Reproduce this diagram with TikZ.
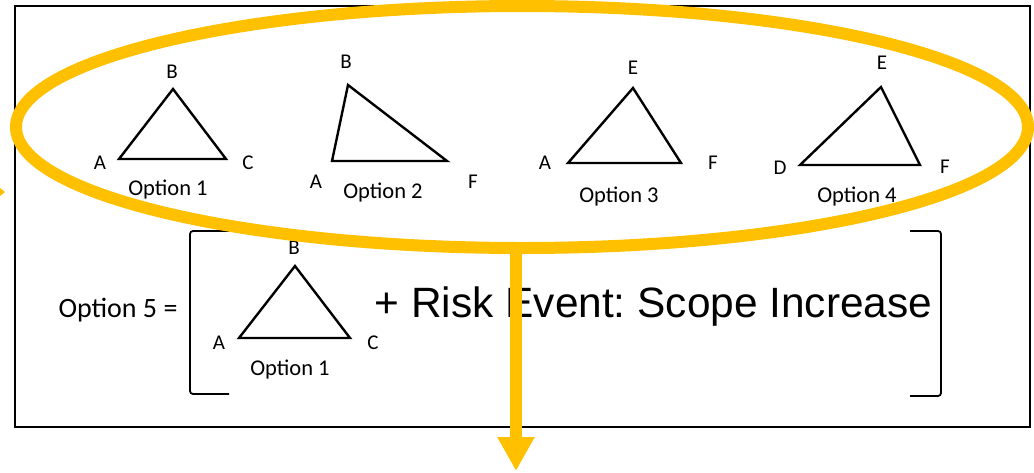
\documentclass[tikz,border=0pt]{standalone}
\usepackage{fontspec}
\setmainfont{Carlito}
\newfontfamily\arialfont{Liberation Sans}
\usetikzlibrary{shapes.geometric,arrows.meta}
\definecolor{gold}{HTML}{FFC000}
\frenchspacing
\tikzset{
  tri/.style={draw=black, line width=2.4pt, line join=miter},
  vlab/.style={inner sep=0pt, font=\fontsize{21}{24}\selectfont},
  optlab/.style={inner sep=0pt, font=\fontsize{22.5}{26}\selectfont},
  brk/.style={draw=black, line width=1.8pt, rounded corners=3pt},
  hl/.style={draw=gold, line width=12pt},
}
\begin{document}
\begin{tikzpicture}[x=1pt,y=-1pt]
\useasboundingbox (0,0) rectangle (1034,472);
\node[draw=black, line width=2pt, minimum width=1015pt, minimum height=421pt, inner sep=0pt, outer sep=0pt, anchor=north west] (box) at (15,6) {};
% Option 1
\coordinate (a1) at (119,159); \coordinate (b1) at (173,89); \coordinate (c1) at (226,159);
\draw[tri] (a1) -- (b1) -- (c1) -- cycle;
\node[vlab] (lb1) at (172,72) {B};
\node[vlab] (la1) at (100,163) {A};
\node[vlab] (lc1) at (248,163) {C};
\node[optlab] (o1) at (168,190) {Option 1};
% Option 2
\coordinate (a2) at (332,161); \coordinate (b2) at (348,85); \coordinate (f2) at (447,161);
\draw[tri] (a2) -- (b2) -- (f2) -- cycle;
\node[vlab] (lb2) at (346,62) {B};
\node[vlab] (la2) at (316,182) {A};
\node[vlab] (lf2) at (473,182) {F};
\node[optlab] (o2) at (383,193) {Option 2};
% Option 3
\coordinate (a3) at (568,163); \coordinate (e3) at (633,88); \coordinate (f3) at (681,163);
\draw[tri] (a3) -- (e3) -- (f3) -- cycle;
\node[vlab] (le3) at (633,68) {E};
\node[vlab] (la3) at (545,163) {A};
\node[vlab] (lf3) at (713,163) {F};
\node[optlab] (o3) at (619,197) {Option 3};
% Option 4
\coordinate (d4) at (800,165); \coordinate (e4) at (881,87); \coordinate (f4) at (920,165);
\draw[tri] (d4) -- (e4) -- (f4) -- cycle;
\node[vlab] (le4) at (882,63) {E};
\node[vlab] (ld4) at (780,168) {D};
\node[vlab] (lf4) at (945,167) {F};
\node[optlab] (o4) at (857,197) {Option 4};
% Option 5
\node[inner sep=0pt, font=\fontsize{28}{32}\selectfont] (o5) at (118,310) {Option 5 =};
\draw[brk] (229,231) -- (190,231) -- (190,394) -- (229,394);
\draw[brk] (910,231) -- (941,231) -- (941,396) -- (910,396);
\coordinate (a5) at (239,338); \coordinate (b5) at (295,266); \coordinate (c5) at (350,338);
\draw[tri] (a5) -- (b5) -- (c5) -- cycle;
\node[vlab] (lb5) at (294,248) {B};
\node[vlab] (la5) at (219,343) {A};
\node[vlab] (lc5) at (373,343) {C};
\node[optlab] (o6) at (290,370) {Option 1};
\node[inner sep=0pt, anchor=base, font=\arialfont\fontsize{42.4}{46}\selectfont] (risk) at (653.5,317) {+ Risk Event: Scope Increase};
% highlight
\node[ellipse, hl, minimum width=1012pt, minimum height=242pt, inner sep=0pt, outer sep=0pt] (ell) at (522,127) {};
\coordinate (tip) at (516,471);
\draw[hl, -{Triangle[length=34pt,width=35pt]}] (ell.south -| tip) -- (tip);
\fill[gold] (0,188) -- (5,192) -- (0,196) -- cycle;
\end{tikzpicture}
\end{document}
